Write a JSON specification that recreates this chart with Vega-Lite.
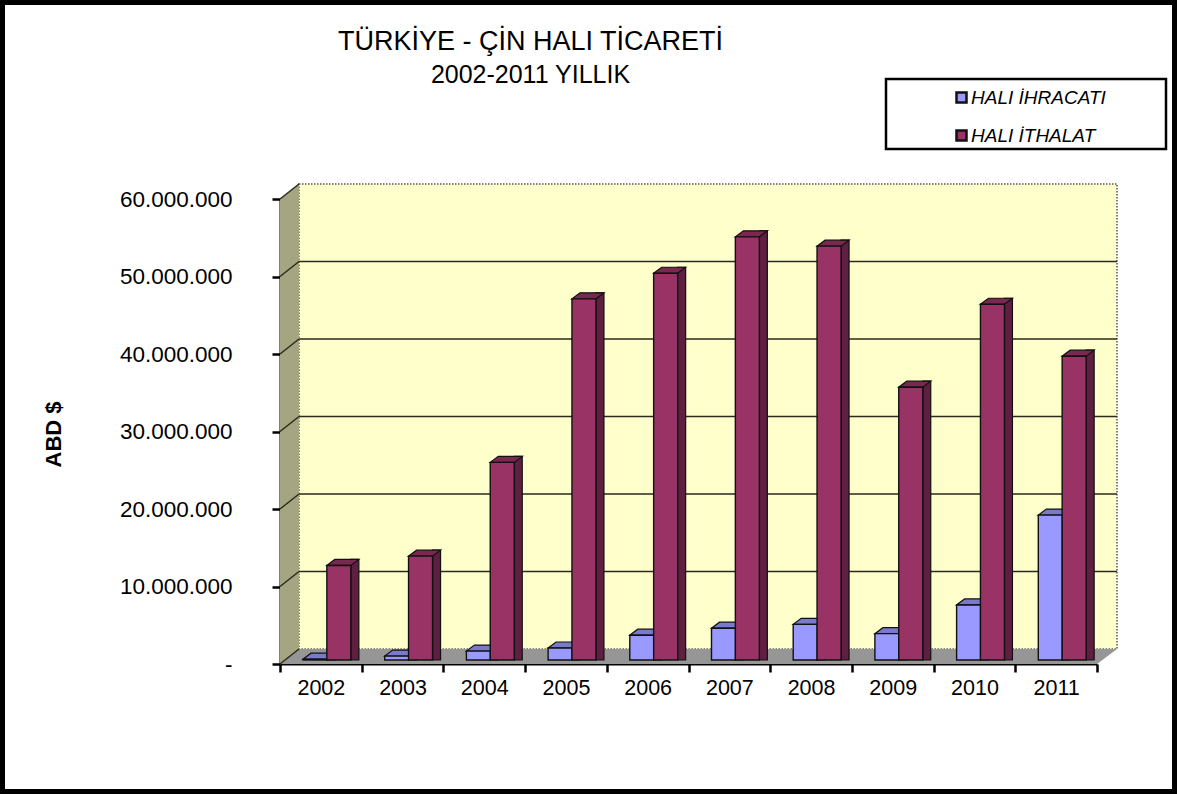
{
"$schema":"https://vega.github.io/schema/vega-lite/v6.json",
"width":1177,"height":794,"autosize":"none","padding":0,
"background":"white",
"config":{"font":"Liberation Sans","view":{"fill":"white","stroke":"black","strokeWidth":10}},
"title":{"text":"TÜRKİYE  - ÇİN HALI TİCARETİ","subtitle":"2002-2011 YILLIK","frame":"group","anchor":"middle","dx":-58,"offset":-89,"fontSize":27,"fontWeight":"normal","color":"black","subtitleFontSize":25,"subtitleColor":"black","subtitlePadding":7,"subtitleFont":"Liberation Sans"},
"datasets":{
"trade":[
{"year":2002,"series":"HALI İHRACATI","value":100000},
{"year":2003,"series":"HALI İHRACATI","value":500000},
{"year":2004,"series":"HALI İHRACATI","value":1150000},
{"year":2005,"series":"HALI İHRACATI","value":1550000},
{"year":2006,"series":"HALI İHRACATI","value":3200000},
{"year":2007,"series":"HALI İHRACATI","value":4100000},
{"year":2008,"series":"HALI İHRACATI","value":4600000},
{"year":2009,"series":"HALI İHRACATI","value":3400000},
{"year":2010,"series":"HALI İHRACATI","value":7100000},
{"year":2011,"series":"HALI İHRACATI","value":18700000},
{"year":2002,"series":"HALI İTHALAT","value":12200000},
{"year":2003,"series":"HALI İTHALAT","value":13400000},
{"year":2004,"series":"HALI İTHALAT","value":25500000},
{"year":2005,"series":"HALI İTHALAT","value":46600000},
{"year":2006,"series":"HALI İTHALAT","value":49900000},
{"year":2007,"series":"HALI İTHALAT","value":54600000},
{"year":2008,"series":"HALI İTHALAT","value":53400000},
{"year":2009,"series":"HALI İTHALAT","value":35200000},
{"year":2010,"series":"HALI İTHALAT","value":45900000},
{"year":2011,"series":"HALI İTHALAT","value":39200000}
],
"grid":[{"v":0},{"v":10000000},{"v":20000000},{"v":30000000},{"v":40000000},{"v":50000000},{"v":60000000}]
},
"data":{"name":"trade"},
"layer":[
{"data":{"values":[{}]},"mark":{"type":"rect","fill":"#FFFFCC","stroke":"#808080","strokeWidth":2,"strokeDash":[1.5,1.5],"xOffset":19,"x2Offset":20,"yOffset":-15,"y2Offset":-15},
 "encoding":{"x":{"datum":2001.5,"type":"quantitative","scale":{"domain":[2001.5,2011.5],"range":[280,1097],"padding":0,"nice":false,"zero":false},
   "axis":{"orient":"bottom","offset":-130,"values":[2001.5,2002,2002.5,2003,2003.5,2004,2004.5,2005,2005.5,2006,2006.5,2007,2007.5,2008,2008.5,2009,2009.5,2010,2010.5,2011,2011.5],"title":null,"grid":false,"domainColor":"black","domainWidth":2,"tickColor":"black","tickWidth":2.5,"tickSize":{"condition":{"test":"datum.value%1!=0","value":8},"value":0},"labelExpr":"datum.value%1==0?format(datum.value,'d'):''","labelOverlap":false,"labelFontSize":21.5,"labelColor":"black","labelPadding":13,"labelFlush":false}},
  "x2":{"datum":2011.5},
  "y":{"datum":0,"type":"quantitative","scale":{"domain":[0,60000000],"range":[664,199]},
   "axis":{"orient":"left","offset":-280,"values":[0,10000000,20000000,30000000,40000000,50000000,60000000],"title":"ABD $","titleFontSize":22,"titleFontWeight":"bold","titleColor":"black","titleX":-215,"titleY":434,"grid":false,"domainColor":"black","domainWidth":2,"tickColor":"black","tickWidth":2.5,"tickSize":8,"labelExpr":"datum.value==0?'-\u00a0':replace(format(datum.value,','),/,/g,'.')","labelFontSize":22.5,"labelColor":"black","labelPadding":40}},
  "y2":{"datum":60000000}}},
{"data":{"values":[{}]},"mark":{"type":"point","filled":true,"size":4,"opacity":1,"fill":"#A5A582","stroke":null,"shape":"M0,0 L19,-15 L19,-480 L0,-465 Z"},
 "encoding":{"x":{"datum":2001.5},"y":{"datum":0}}},
{"data":{"values":[{}]},"mark":{"type":"point","filled":true,"size":4,"opacity":1,"fill":"#969696","stroke":null,"shape":"M0,0 L817,0 L837,-15 L19,-15 Z"},
 "encoding":{"x":{"datum":2001.5},"y":{"datum":0}}},
{"data":{"name":"grid"},"mark":{"type":"rule","stroke":"#2A2A1E","strokeWidth":1.5,"xOffset":19,"x2Offset":20,"yOffset":-15},
 "transform":[{"filter":"datum.v>0 && datum.v<60000000"}],
 "encoding":{"x":{"datum":2001.5},"x2":{"datum":2011.5},"y":{"field":"v","type":"quantitative"}}},
{"data":{"name":"grid"},"mark":{"type":"point","filled":false,"size":4,"opacity":1,"stroke":"#2A2A1E","strokeWidth":1.5,"shape":"M0,0 L19,-15"},
 "encoding":{"x":{"datum":2001.5},"y":{"field":"v","type":"quantitative"}}},

{"transform":[{"filter":"datum.series=='HALI İHRACATI'"}],"mark":{"type":"bar","width":8,"fill":"#5A5A99","xOffset":10,"yOffset":-10,"y2Offset":-4,"stroke":"#111","strokeWidth":1.2},
 "encoding":{"x":{"field":"year","type":"quantitative"},"y":{"field":"value","type":"quantitative"},"y2":{"datum":0}}},
{"transform":[{"filter":"datum.series=='HALI İHRACATI'"}],"mark":{"type":"point","filled":true,"size":4,"opacity":1,"fill":"#7A7ACC","stroke":"#111","strokeWidth":1.2,"yOffset":-4,"xOffset":-5.85,"shape":"M-12,0 L12,0 L20,-6 L-4,-6 Z"},
 "encoding":{"x":{"field":"year","type":"quantitative"},"y":{"field":"value","type":"quantitative"}}},
{"transform":[{"filter":"datum.series=='HALI İHRACATI'"}],"mark":{"type":"bar","width":24,"xOffset":-5.85,"yOffset":-4,"y2Offset":-4,"stroke":"#111","strokeWidth":1.4},
 "encoding":{"x":{"field":"year","type":"quantitative"},"y":{"field":"value","type":"quantitative"},"y2":{"datum":0},
  "color":{"field":"series","type":"nominal","scale":{"domain":["HALI İHRACATI","HALI İTHALAT"],"range":["#9999FF","#993366"]},
   "legend":{"orient":"none","legendX":952,"legendY":88,"title":null,"symbolType":"square","symbolSize":100,"symbolStrokeColor":"black","symbolStrokeWidth":2.5,"symbolOpacity":1,"labelFontSize":19,"labelFontStyle":"italic","labelColor":"black","labelOffset":0,"rowPadding":17,"padding":0}}}},

{"transform":[{"filter":"datum.series=='HALI İTHALAT'"}],"mark":{"type":"bar","width":8,"fill":"#5E1F40","xOffset":34,"yOffset":-10,"y2Offset":-4,"stroke":"#111","strokeWidth":1.2},
 "encoding":{"x":{"field":"year","type":"quantitative"},"y":{"field":"value","type":"quantitative"},"y2":{"datum":0}}},
{"transform":[{"filter":"datum.series=='HALI İTHALAT'"}],"mark":{"type":"point","filled":true,"size":4,"opacity":1,"fill":"#7A2850","stroke":"#111","strokeWidth":1.2,"yOffset":-4,"xOffset":18,"shape":"M-12,0 L12,0 L20,-6 L-4,-6 Z"},
 "encoding":{"x":{"field":"year","type":"quantitative"},"y":{"field":"value","type":"quantitative"}}},
{"transform":[{"filter":"datum.series=='HALI İTHALAT'"}],"mark":{"type":"bar","width":24,"xOffset":18,"yOffset":-4,"y2Offset":-4,"stroke":"#111","strokeWidth":1.4},
 "encoding":{"x":{"field":"year","type":"quantitative"},"y":{"field":"value","type":"quantitative"},"y2":{"datum":0},
  "color":{"field":"series","type":"nominal"}}},
{"data":{"values":[{}]},"mark":{"type":"point","filled":false,"size":4,"opacity":1,"stroke":"black","strokeWidth":2.5,"shape":"M-211,-120 L69,-120 L69,-50 L-211,-50 Z"},
 "encoding":{"x":{"datum":2011.5},"y":{"datum":60000000}}}
]
}
